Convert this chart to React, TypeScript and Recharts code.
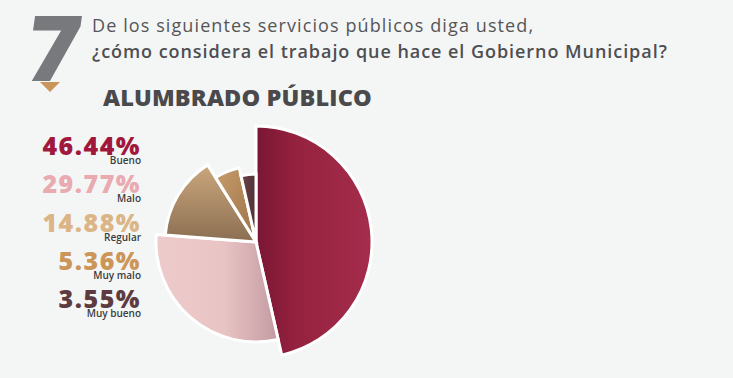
import { PieChart, Pie, Cell } from "recharts";

const categories = ["Bueno", "Malo", "Regular", "Muy malo", "Muy bueno"];
const values = [46.44, 29.77, 14.88, 5.36, 3.55];
const labelColors = ["#a0193d", "#e9aab0", "#dcb587", "#cc955a", "#5e3b40"];
const radii = [116, 100, 91, 76, 68];

const data = categories.map((name, i) => ({ name, value: values[i] }));

const gradients = [
  { id: "g0", dir: [0, 0, 1, 0], stops: [["0%", "#7a1634"], ["35%", "#95223f"], ["100%", "#a52c4c"]] },
  { id: "g1", dir: [0, 0, 1, 0], stops: [["0%", "#eecbcb"], ["55%", "#e9c4c4"], ["100%", "#c29ba2"]] },
  { id: "g2", dir: [0, 0, 0, 1], stops: [["0%", "#caa77c"], ["100%", "#8b6e52"]] },
  { id: "g3", dir: [0, 0, 1, 1], stops: [["0%", "#c69c6c"], ["100%", "#9c7146"]] },
  { id: "g4", dir: [0, 0, 1, 0], stops: [["0%", "#6d454b"], ["100%", "#4f3035"]] },
];

const font = "'Open Sans', 'DejaVu Sans', sans-serif";

export default function App() {
  return (
    <div style={{ position: "relative", width: 733, height: 378, background: "#f4f6f6", overflow: "hidden", fontFamily: font }}>
      <style>{`body{margin:0}`}</style>

      {/* big question number */}
      <svg width={100} height={100} overflow="visible" style={{ position: "absolute", left: 0, top: 0 }}>
        <text x={22} y={81} fontFamily={font} fontWeight={800} fontSize={91} fill="#78797c" transform="skewX(-8) translate(12,0)">7</text>
        <polygon points="40,82 60,82 50,92" fill="#c8955a" />
      </svg>

      <div style={{ position: "absolute", left: 92, top: 13, fontSize: 18, color: "#555558", letterSpacing: 1.1, whiteSpace: "nowrap" }}>
        De los siguientes servicios públicos diga usted,
      </div>
      <div style={{ position: "absolute", left: 92, top: 39, fontSize: 18, fontWeight: 600, color: "#4e4e52", letterSpacing: 0.95, whiteSpace: "nowrap" }}>
        ¿cómo considera el trabajo que hace el Gobierno Municipal?
      </div>
      <div style={{ position: "absolute", left: 103, top: 81, fontSize: 23.5, fontWeight: 800, color: "#4a4a4d", letterSpacing: 0.15, whiteSpace: "nowrap" }}>
        ALUMBRADO PÚBLICO
      </div>

      <PieChart width={733} height={378} margin={{ top: 0, right: 0, bottom: 0, left: 0 }} style={{ position: "absolute", left: 0, top: 0 }}>
        <defs>
          {gradients.map((g) => (
            <linearGradient key={g.id} id={g.id} x1={g.dir[0]} y1={g.dir[1]} x2={g.dir[2]} y2={g.dir[3]}>
              {g.stops.map(([o, c]) => (
                <stop key={o} offset={o} stopColor={c} />
              ))}
            </linearGradient>
          ))}
        </defs>
        {radii.map((r, k) => (
          <Pie
            key={k}
            data={data}
            dataKey="value"
            nameKey="name"
            cx={256}
            cy={242}
            innerRadius={0}
            outerRadius={r}
            startAngle={90}
            endAngle={-270}
            isAnimationActive={false}
          >
            {data.map((d, i) => (
              <Cell
                key={d.name}
                fill={i === k ? `url(#g${k})` : "none"}
                stroke={i === k ? "#ffffff" : "none"}
                strokeWidth={3}
              />
            ))}
          </Pie>
        ))}
      </PieChart>

      {/* left legend */}
      {data.map((d, i) => (
        <div key={d.name} style={{ position: "absolute", right: 733 - 141, top: 135 + i * 38.3, textAlign: "right" }}>
          <div style={{ fontWeight: 800, fontSize: 25, lineHeight: "20px", color: labelColors[i], letterSpacing: 1.5 }}>
            {d.value.toFixed(2)}%
          </div>
          <div style={{ fontSize: 10, fontWeight: 600, lineHeight: "10px", color: "#3d3d40" }}>{d.name}</div>
        </div>
      ))}
    </div>
  );
}
